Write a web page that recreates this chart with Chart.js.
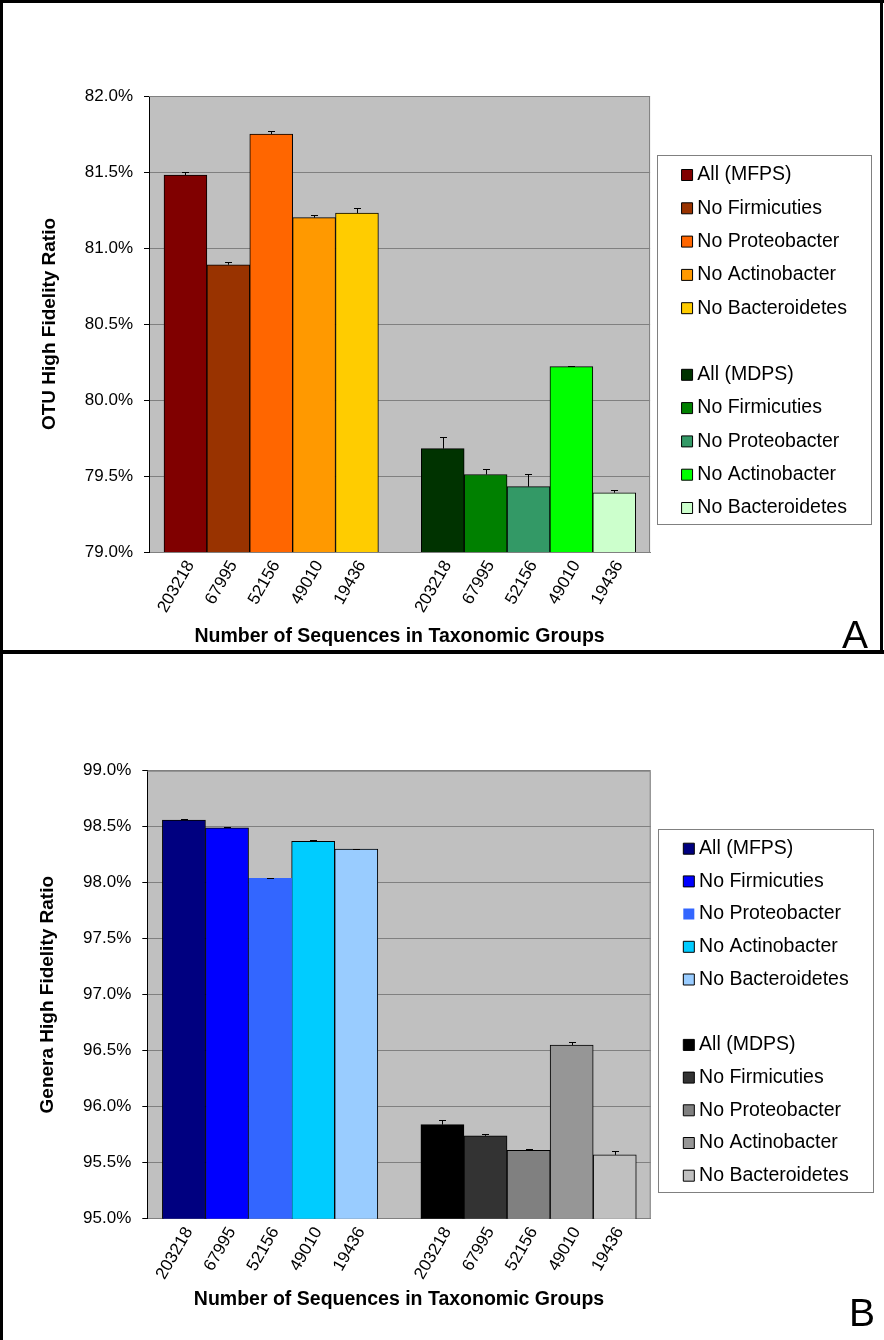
<!DOCTYPE html>
<html>
<head>
<meta charset="utf-8">
<script src="https://cdn.jsdelivr.net/npm/chart.js@4.4.1/dist/chart.umd.min.js"></script>
<style>
body { margin: 0; background: #fff; }
#wrap { position: relative; width: 884px; height: 1340px; overflow: hidden; }
canvas { position: absolute; left: 0; }
.line { position: absolute; background: #000; }
.tag { position: absolute; font-family: 'Liberation Sans Narrow', 'Liberation Sans', Arial, sans-serif; font-size: 39px; line-height: 39px; color: #000; }
</style>
</head>
<body>
<div id="wrap">
  <canvas id="chartA" width="884" height="652" style="top:0"></canvas>
  <canvas id="chartB" width="884" height="688" style="top:652px"></canvas>
  <div class="line" style="left:0;top:0;width:3px;height:1340px"></div>
  <div class="line" style="left:0;top:0;width:884px;height:3px"></div>
  <div class="line" style="left:880px;top:0;width:3px;height:652px"></div>
  <div class="line" style="left:0;top:650px;width:884px;height:4px"></div>
  <div class="tag" style="left:842px;top:615px">A</div>
  <div class="tag" style="left:849px;top:1293px">B</div>
</div>
<script>
// labels
const seqLabels = ['203218', '67995', '52156', '49010', '19436']
const mfpsNames = ['All (MFPS)', 'No Firmicuties', 'No Proteobacter', 'No Actinobacter', 'No Bacteroidetes']
const mdpsNames = ['All (MDPS)', 'No Firmicuties', 'No Proteobacter', 'No Actinobacter', 'No Bacteroidetes']
const xTickLabels = seqLabels.concat([''], seqLabels)

// A: OTU high fidelity ratio (%)
const otuMfps = [81.48, 80.89, 81.75, 81.20, 81.23]
const otuMfpsErr = [0.02, 0.02, 0.02, 0.02, 0.035]
const otuMdps = [79.68, 79.51, 79.43, 80.22, 79.39]
const otuMdpsErr = [0.075, 0.035, 0.08, 0.005, 0.017]

// B: genera high fidelity ratio (%)
const genMfps = [98.56, 98.49, 98.04, 98.37, 98.30]
const genMfpsErr = [0.005, 0.004, 0.003, 0.015, 0.005]
const genMdps = [95.84, 95.74, 95.61, 96.55, 95.57]
const genMdpsErr = [0.045, 0.02, 0.015, 0.027, 0.033]

// colours
const otuMfpsColors = ['#800000', '#993300', '#FF6600', '#FF9900', '#FFCC00']
const otuMdpsColors = ['#003300', '#008000', '#339966', '#00FF00', '#CCFFCC']
const genMfpsColors = ['#000080', '#0000FF', '#3366FF', '#00CCFF', '#99CCFF']
const genMdpsColors = ['#000000', '#333333', '#808080', '#969696', '#C0C0C0']

Chart.defaults.font.family = "'Liberation Sans', Arial, sans-serif"
Chart.defaults.color = '#000'

// one dataset per bar so every bar gets its own legend entry
function barSets(names, values, errors, colors, offset, noBorder) {
  return names.map((name, i) => ({
    label: name,
    data: [{ x: i + offset, y: values[i] }],
    err: errors[i],
    backgroundColor: colors[i],
    borderColor: '#000000',
    borderWidth: noBorder === i ? 0 : 1,
    grouped: false,
    barPercentage: 1,
    categoryPercentage: 1
  }))
}

// empty line between the two legend groups
const spacer = { label: '', data: [], backgroundColor: 'rgba(0,0,0,0)', borderColor: 'rgba(0,0,0,0)', borderWidth: 0, grouped: false }

const plotFrame = {
  id: 'plotFrame',
  beforeDraw(chart) {
    const { ctx, chartArea: a } = chart
    ctx.save()
    ctx.fillStyle = '#C0C0C0'
    ctx.fillRect(a.left, a.top, a.right - a.left, a.bottom - a.top)
    ctx.restore()
  },
  beforeDatasetsDraw(chart) {
    const { ctx, chartArea: a } = chart
    ctx.save()
    ctx.strokeStyle = '#808080'
    ctx.lineWidth = 1
    ctx.beginPath()
    ctx.moveTo(a.left, a.top + 0.5)
    ctx.lineTo(a.right - 0.5, a.top + 0.5)
    ctx.lineTo(a.right - 0.5, a.bottom)
    ctx.stroke()
    ctx.restore()
  },
  afterDraw(chart, args, opts) {
    // frame around the legend
    const hb = chart.legend.legendHitBoxes
    const fs = chart.options.plugins.legend.labels.font.size
    const first = hb[0], last = hb[hb.length - 1]
    const x1 = Math.round(first.left + opts.dx) + 0.5
    const y1 = Math.round(first.top + fs / 2 + opts.dy1) + 0.5
    const y2 = Math.round(last.top + fs / 2 + opts.dy2) + 0.5
    const ctx = chart.ctx
    ctx.save()
    ctx.strokeStyle = '#808080'
    ctx.lineWidth = 1
    ctx.strokeRect(x1, y1, opts.w, y2 - y1)
    ctx.restore()
  }
}

const errorBars = {
  id: 'errorBars',
  afterDatasetsDraw(chart) {
    const ctx = chart.ctx, xs = chart.scales.x, ys = chart.scales.y
    ctx.save()
    ctx.strokeStyle = '#000'
    ctx.lineWidth = 1
    chart.data.datasets.forEach(ds => {
      if (!ds.data.length) return
      const p = ds.data[0]
      const px = Math.round(xs.getPixelForValue(p.x)) + 0.5
      const top = Math.round(ys.getPixelForValue(p.y + ds.err)) + 0.5
      const base = ys.getPixelForValue(p.y)
      ctx.beginPath()
      ctx.moveTo(px, base)
      ctx.lineTo(px, top)
      ctx.moveTo(px - 3.5, top)
      ctx.lineTo(px + 3.5, top)
      ctx.stroke()
    })
    ctx.restore()
  }
}

function makePanel(id, p) {
  return new Chart(document.getElementById(id), {
    type: 'bar',
    data: {
      datasets: barSets(mfpsNames, p.mfps, p.mfpsErr, p.mfpsColors, 0, p.noBorder)
        .concat([spacer], barSets(mdpsNames, p.mdps, p.mdpsErr, p.mdpsColors, 6))
    },
    options: {
      responsive: false,
      animation: false,
      layout: { padding: p.pad },
      scales: {
        x: {
          type: 'linear',
          offset: false,
          min: -0.85,
          max: 10.835,
          grid: { display: false, drawTicks: false },
          border: { color: '#808080' },
          ticks: {
            stepSize: 1,
            includeBounds: false,
            autoSkip: false,
            maxTicksLimit: 30,
            minRotation: 60,
            maxRotation: 60,
            padding: 5,
            labelOffset: 5,
            font: { size: 17 },
            color: '#000',
            callback: v => Number.isInteger(v) ? (xTickLabels[v] || '') : ''
          },
          title: {
            display: true,
            text: 'Number of Sequences in Taxonomic Groups',
            font: { size: 19.5, weight: 'bold' },
            color: '#000',
            padding: 0
          },
          afterFit: s => { s.height = p.xHeight }
        },
        y: {
          min: p.yMin,
          max: p.yMax,
          ticks: {
            stepSize: 0.5,
            padding: 11,
            font: { size: 17 },
            color: '#000',
            callback: v => v.toFixed(1) + '%'
          },
          grid: { color: '#808080', tickColor: '#000', tickLength: 5 },
          border: { color: '#000' },
          title: {
            display: true,
            text: p.yTitle,
            font: { size: 19, weight: 'bold' },
            color: '#000',
            padding: { top: p.yTitlePad, bottom: 0 }
          },
          afterFit: s => { s.width = p.yWidth }
        },
        gap: {
          type: 'linear',
          position: 'right',
          grid: { display: false, drawTicks: false },
          border: { display: false },
          ticks: { display: false },
          afterFit: s => { s.width = p.gap }
        }
      },
      plugins: {
        tooltip: { enabled: false },
        legend: {
          position: 'right',
          align: 'start',
          maxWidth: 400,
          title: { display: true, text: '', font: { size: 10, lineHeight: 1 }, padding: { top: p.legendTop, bottom: 0 } },
          labels: {
            usePointStyle: true,
            pointStyle: 'rect',
            boxWidth: 1,
            boxHeight: 11,
            padding: p.legendPad,
            font: { size: 19.5 },
            color: '#000'
          }
        },
        plotFrame: p.frame
      }
    },
    plugins: [plotFrame, errorBars]
  })
}

makePanel('chartA', {
  mfps: otuMfps, mfpsErr: otuMfpsErr, mfpsColors: otuMfpsColors,
  mdps: otuMdps, mdpsErr: otuMdpsErr, mdpsColors: otuMdpsColors,
  yMin: 79, yMax: 82, yTitle: 'OTU High Fidelity Ratio',
  pad: { top: 96, left: 0, right: 27.1, bottom: 4 },
  xHeight: 96, yWidth: 149, yTitlePad: 38.6, gap: 22.7,
  legendTop: 45.45, legendPad: 13.8,
  frame: { dx: -29.5, dy1: -20, dy2: 16, w: 214 }
})

makePanel('chartB', {
  mfps: genMfps, mfpsErr: genMfpsErr, mfpsColors: genMfpsColors,
  mdps: genMdps, mdpsErr: genMdpsErr, mdpsColors: genMdpsColors,
  noBorder: 2,
  yMin: 95, yMax: 99, yTitle: 'Genera High Fidelity Ratio',
  pad: { top: 118.7, left: 0, right: 25.35, bottom: 28.6 },
  xHeight: 92.7, yWidth: 147.3, yTitlePad: 36.6, gap: 24.4,
  legendTop: 45.05, legendPad: 13.2,
  frame: { dx: -30.3, dy1: -20, dy2: 16, w: 215 }
})
</script>
</body>
</html>
